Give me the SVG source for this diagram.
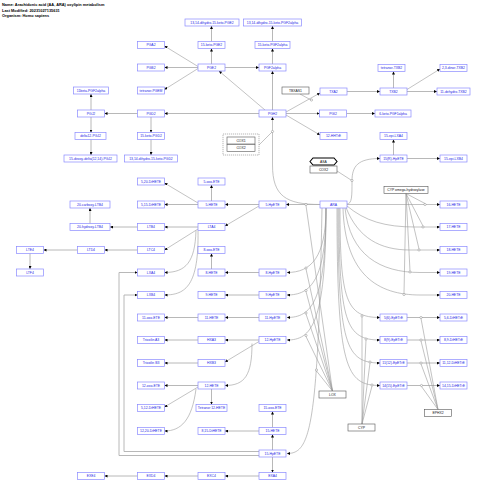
<svg xmlns="http://www.w3.org/2000/svg" width="480" height="490" viewBox="0 0 480 490">
<style>
.n rect{fill:#fff;stroke:#8a8aff;stroke-width:0.7}
.n text{font-family:"Liberation Sans",Arial,sans-serif;font-size:3.4px;fill:#2323e6;text-anchor:middle;dominant-baseline:central}
.g rect,.g polygon{fill:#fff;stroke:#555;stroke-width:0.6}
.g text{font-family:"Liberation Sans",Arial,sans-serif;font-size:3.4px;fill:#111;text-anchor:middle;dominant-baseline:central}
.hd{font-family:"Liberation Sans",Arial,sans-serif;font-size:3.9px;font-weight:bold;fill:#000}
#edges path,#edges line{fill:none;stroke:#9a9a9a;stroke-width:0.6}
#edges .a{marker-end:url(#ah)}
#edges .s{stroke:#b0b0b0;stroke-width:0.9}
#edges circle{fill:#fff;stroke:#888;stroke-width:0.5}
</style>
<defs>
<marker id="ah" markerUnits="userSpaceOnUse" markerWidth="3" markerHeight="3" viewBox="0 0 6 6" refX="6" refY="3" orient="auto"><path d="M0,0 L6,3 L0,6 z" fill="#000"/></marker>
</defs>
<rect width="480" height="490" fill="#fff"/>
<text class="hd" x="2" y="6">Name: Arachidonic acid (AA, ARA) oxylipin metabolism</text>
<text class="hd" x="2" y="11.5">Last Modified: 20231027135631</text>
<text class="hd" x="2" y="17">Organism: Homo sapiens</text>

<g id="edges">
<!-- prostanoids -->
<line class="a s" x1="211.5" y1="64" x2="211.5" y2="48.5"/>
<line class="a s" x1="211.5" y1="41.5" x2="211.5" y2="26"/>
<line class="a s" x1="272.5" y1="64" x2="272.5" y2="48.5"/>
<line class="a s" x1="272.5" y1="41.5" x2="272.5" y2="26"/>
<line class="a s" x1="225" y1="67.5" x2="259" y2="67.5"/>
<line class="a" x1="198" y1="66.5" x2="164.5" y2="46"/>
<line class="a s" x1="198" y1="67.5" x2="164.5" y2="67.5"/>
<line class="a" x1="198" y1="68.5" x2="164.5" y2="89.5"/>
<line class="a" x1="265" y1="110" x2="219" y2="71"/>
<line class="a s" x1="272.5" y1="110" x2="272.5" y2="71"/>
<line class="a s" x1="259" y1="113.5" x2="164.5" y2="113.5"/>
<line class="a s" x1="137.5" y1="113.5" x2="104.5" y2="113.5"/>
<line class="a s" x1="91" y1="110" x2="91" y2="94"/>
<line class="a s" x1="91" y1="117" x2="91" y2="132.5"/>
<line class="a s" x1="91" y1="139.5" x2="91" y2="155"/>
<line class="a s" x1="151" y1="117" x2="151" y2="132.5"/>
<line class="a s" x1="151" y1="139.5" x2="151" y2="155"/>
<line class="a" x1="286" y1="112" x2="320" y2="93"/>
<line x1="300" y1="94" x2="311" y2="100"/>
<circle cx="311.5" cy="100" r="1.1"/>
<line class="a s" x1="286" y1="113.5" x2="319.5" y2="113.5"/>
<line class="a" x1="286" y1="115" x2="320" y2="135"/>
<line class="a s" x1="347" y1="91.5" x2="380" y2="91.5"/>
<line class="a s" x1="393.5" y1="88" x2="393.5" y2="71.5"/>
<line class="a" x1="407" y1="89.5" x2="440" y2="69"/>
<line class="a s" x1="407" y1="91.5" x2="437" y2="91.5"/>
<line class="a s" x1="346.5" y1="113.5" x2="375" y2="113.5"/>
<!-- ARA to PGH2 via COX -->
<path class="a" d="M320,204.5 C286,204.5 272.5,196 272.5,165 L272.5,117"/>
<line x1="259" y1="145" x2="272" y2="132"/>
<circle cx="272.5" cy="131.5" r="1.1"/>
<!-- ARA to 15(R)-HpETE -->
<path class="a" d="M347,204 C352,204 352,196 352,181 C352,166 358,158.5 380,158.5"/>
<line x1="337" y1="171" x2="351" y2="180"/>
<circle cx="352" cy="180.5" r="1.1"/>
<line class="a s" x1="393.5" y1="155" x2="393.5" y2="139.5"/>
<line class="a s" x1="407" y1="158.5" x2="440" y2="158.5"/>
<!-- 5-LOX branch -->
<line class="a s" x1="320" y1="204.5" x2="286" y2="204.5"/>
<circle cx="306" cy="204.5" r="1.1"/>
<line class="a s" x1="259" y1="204.5" x2="225" y2="204.5"/>
<line class="a s" x1="211.5" y1="201" x2="211.5" y2="185"/>
<line class="a" x1="198" y1="203" x2="164.5" y2="183"/>
<line class="a s" x1="198" y1="204.5" x2="164.5" y2="204.5"/>
<line class="a" x1="259" y1="206" x2="225" y2="226"/>
<line class="a s" x1="198" y1="227" x2="164.5" y2="227"/>
<line class="a s" x1="137.5" y1="227" x2="110" y2="227"/>
<line class="a s" x1="90" y1="223.5" x2="90" y2="208"/>
<line class="a" x1="198" y1="229" x2="164.5" y2="250"/>
<line class="a s" x1="137.5" y1="250" x2="104.5" y2="250"/>
<line class="a s" x1="77.5" y1="250" x2="43.5" y2="250"/>
<line class="a s" x1="30" y1="253.5" x2="30" y2="269"/>
<path class="a" d="M196,230.5 C195,262 186,272.5 164.5,272.5"/>
<path class="a" d="M198,230.5 C199,285 186,295 164.5,295"/>
<!-- 8,9,11,12 HpETE -->
<path class="a" d="M326,208 C326,257.5 311,272.5 287,272.5"/>
<path class="a" d="M326,208 C326,280 311,295 287,295"/>
<path class="a" d="M326,208 C326,302.5 311,317.5 287,317.5"/>
<path class="a" d="M326,208 C326,325 311,340 287,340"/>
<path class="a" d="M322,208 C318,430 310,453.5 287,453.5"/>
<circle cx="306" cy="268" r="1.1"/>
<circle cx="306" cy="290.5" r="1.1"/>
<circle cx="306" cy="313" r="1.1"/>
<circle cx="306" cy="335.5" r="1.1"/>
<circle cx="316.5" cy="370" r="1.1"/>
<line x1="332.5" y1="391" x2="306" y2="205.5"/>
<line x1="332.5" y1="391" x2="306" y2="269"/>
<line x1="332.5" y1="391" x2="306" y2="291.5"/>
<line x1="332.5" y1="391" x2="306" y2="314"/>
<line x1="332.5" y1="391" x2="306" y2="336.5"/>
<line x1="332.5" y1="391" x2="316.5" y2="371"/>
<line class="a s" x1="259" y1="272.5" x2="225" y2="272.5"/>
<line class="a s" x1="211.5" y1="269" x2="211.5" y2="253.5"/>
<line class="a s" x1="259" y1="295" x2="225" y2="295"/>
<line class="a s" x1="259" y1="317.5" x2="225" y2="317.5"/>
<line class="a s" x1="198" y1="317.5" x2="164.5" y2="317.5"/>
<line class="a s" x1="259" y1="340" x2="225" y2="340"/>
<line class="a s" x1="198" y1="340" x2="164.5" y2="340"/>
<line class="a" x1="259" y1="341.5" x2="225" y2="362"/>
<line class="a s" x1="198" y1="363" x2="164.5" y2="363"/>
<path class="a" d="M252,343.5 C252,375 245,385.5 225,385.5"/>
<line class="a s" x1="198" y1="385.5" x2="164.5" y2="385.5"/>
<line class="a s" x1="211.5" y1="389" x2="211.5" y2="404.5"/>
<line class="a" x1="198" y1="387" x2="164.5" y2="407"/>
<path class="a" d="M196,389 C192,420 181,431 164.5,431"/>
<!-- 15-LOX -->
<line class="a s" x1="272.5" y1="450" x2="272.5" y2="434.5"/>
<line class="a s" x1="272.5" y1="427.5" x2="272.5" y2="411.5"/>
<line class="a s" x1="259" y1="431" x2="225" y2="431"/>
<line class="a s" x1="272.5" y1="457" x2="272.5" y2="472.5"/>
<line class="a s" x1="259" y1="476" x2="225" y2="476"/>
<line class="a s" x1="198" y1="476" x2="164.5" y2="476"/>
<line class="a s" x1="137.5" y1="476" x2="104.5" y2="476"/>
<path class="a s" d="M259,455.5 L119,455.5 L119,272.5 L137.5,272.5"/>
<path class="a s" d="M259,451.5 L124,451.5 L124,295 L137.5,295"/>
<!-- CYP omega -->
<line class="a" x1="347" y1="204.5" x2="440" y2="204.5"/>
<path class="a" d="M347,206 C365,221 385,227 415,227 L440,227"/>
<path class="a" d="M346,207.5 C358,238 380,250 410,250 L440,250"/>
<path class="a" d="M345,208 C350,255 380,272.5 420,272.5 L440,272.5"/>
<path class="a" d="M343,208 C345,275 378,295 420,295 L440,295"/>
<circle cx="425" cy="204.5" r="1.1"/>
<circle cx="423" cy="227" r="1.1"/>
<circle cx="419" cy="250" r="1.1"/>
<circle cx="410" cy="272" r="1.1"/>
<circle cx="404" cy="294.5" r="1.1"/>
<line x1="406" y1="193.5" x2="425" y2="203.5"/>
<line x1="406" y1="193.5" x2="423" y2="226"/>
<line x1="406" y1="193.5" x2="419" y2="249"/>
<line x1="406" y1="193.5" x2="410" y2="271"/>
<line x1="406" y1="193.5" x2="404" y2="293.5"/>
<!-- CYP epoxygenase -->
<path class="a" d="M340,208 C340,300 346,317.5 380,317.5"/>
<path class="a" d="M339,208 C339,322 346,340 380,340"/>
<path class="a" d="M338,208 C338,345 346,363 380,363"/>
<path class="a" d="M337,208 C337,368 346,385.5 380,385.5"/>
<circle cx="362" cy="316" r="1.1"/>
<circle cx="366" cy="339" r="1.1"/>
<circle cx="370" cy="362" r="1.1"/>
<circle cx="372" cy="385" r="1.1"/>
<line x1="362" y1="424" x2="362" y2="317"/>
<line x1="362" y1="424" x2="366" y2="340"/>
<line x1="362" y1="424" x2="370" y2="363"/>
<line x1="362" y1="424" x2="372" y2="386"/>
<!-- EPHX2 -->
<line class="a s" x1="407" y1="317.5" x2="440" y2="317.5"/>
<line class="a s" x1="407" y1="340" x2="440" y2="340"/>
<line class="a s" x1="407" y1="363" x2="440" y2="363"/>
<line class="a s" x1="407" y1="385.5" x2="440" y2="385.5"/>
<circle cx="421" cy="317.5" r="1.1"/>
<circle cx="421" cy="340" r="1.1"/>
<circle cx="421" cy="363" r="1.1"/>
<circle cx="421.5" cy="385.5" r="1.1"/>
<line x1="438" y1="409.5" x2="421" y2="318.5"/>
<line x1="438" y1="409.5" x2="421" y2="341"/>
<line x1="438" y1="409.5" x2="421" y2="364"/>
<line x1="438" y1="409.5" x2="421.5" y2="386.5"/>
</g>

<g id="cox-group">
<rect x="223" y="134" width="36" height="21" fill="none" stroke="#888" stroke-width="0.6" stroke-dasharray="1.2,0.8"/>
<g id="COX1" class="g"><rect x="227" y="137" width="28" height="7"/><text x="241" y="140.5">COX1</text></g>
<g id="COX2a" class="g"><rect x="227" y="144.5" width="28" height="7"/><text x="241" y="148">COX2</text></g>
</g>
<g id="ASA" class="g"><polygon points="310,161.5 313,158 334,158 337,161.5 334,165 313,165" style="stroke:#000;stroke-width:1.1"/><text x="323.5" y="161.5">ASA</text></g>
<g id="COX2b" class="g"><rect x="310" y="166" width="27" height="7"/><text x="323.5" y="169.5">COX2</text></g>
<g id="TBXAS1" class="g"><rect x="282" y="87" width="27" height="7"/><text x="295.5" y="90.5">TBXAS1</text></g>
<g id="CYPomega" class="g"><rect x="384" y="186.5" width="44" height="7"/><text x="406" y="190">CYP omega-hydroxylase</text></g>
<g id="LOX" class="g"><rect x="319" y="391" width="27" height="7"/><text x="332.5" y="394.5">LOX</text></g>
<g id="EPHX2" class="g"><rect x="424.5" y="409.5" width="27" height="7"/><text x="438" y="413">EPHX2</text></g>
<g id="CYP" class="g"><rect x="348" y="424" width="27" height="7"/><text x="361.5" y="427.5">CYP</text></g>

<g id="n1" class="n"><rect x="185" y="19" width="54" height="7"/><text x="212" y="22.5">13,14-dihydro-15-keto-PGE2</text></g>
<g id="n2" class="n"><rect x="243.5" y="19" width="58" height="7"/><text x="272.5" y="22.5">13,14-dihydro-15-keto-PGF2alpha</text></g>
<g id="n3" class="n"><rect x="137.5" y="41.5" width="27" height="7"/><text x="151" y="45">PGA2</text></g>
<g id="n4" class="n"><rect x="198" y="41.5" width="27" height="7"/><text x="211.5" y="45">15-keto-PGE2</text></g>
<g id="n5" class="n"><rect x="255" y="41.5" width="35" height="7"/><text x="272.5" y="45">15-keto-PGF2alpha</text></g>
<g id="n6" class="n"><rect x="137.5" y="64" width="27" height="7"/><text x="151" y="67.5">PGB2</text></g>
<g id="n7" class="n"><rect x="198" y="64" width="27" height="7"/><text x="211.5" y="67.5">PGE2</text></g>
<g id="n8" class="n"><rect x="259" y="64" width="27" height="7"/><text x="272.5" y="67.5">PGF2alpha</text></g>
<g id="n9" class="n"><rect x="137.5" y="87" width="27" height="7"/><text x="151" y="90.5">tetranor-PGEM</text></g>
<g id="n10" class="n"><rect x="73.5" y="87" width="35" height="7"/><text x="91" y="90.5">11beta-PGF2alpha</text></g>
<g id="n12" class="n"><rect x="378" y="64.5" width="27" height="7"/><text x="391.5" y="68">tetranor-TXB2</text></g>
<g id="n13" class="n"><rect x="440" y="64.5" width="27" height="7"/><text x="453.5" y="68">2,3-dinor-TXB2</text></g>
<g id="n14" class="n"><rect x="320" y="88" width="27" height="7"/><text x="333.5" y="91.5">TXA2</text></g>
<g id="n15" class="n"><rect x="380" y="88" width="27" height="7"/><text x="393.5" y="91.5">TXB2</text></g>
<g id="n16" class="n"><rect x="437" y="88" width="33" height="7"/><text x="453.5" y="91.5">11-dehydro-TXB2</text></g>
<g id="n17" class="n"><rect x="77.5" y="110" width="27" height="7"/><text x="91" y="113.5">PGJ2</text></g>
<g id="n18" class="n"><rect x="137.5" y="110" width="27" height="7"/><text x="151" y="113.5">PGD2</text></g>
<g id="n19" class="n"><rect x="259" y="110" width="27" height="7"/><text x="272.5" y="113.5">PGH2</text></g>
<g id="n20" class="n"><rect x="319.5" y="110" width="27" height="7"/><text x="333" y="113.5">PGI2</text></g>
<g id="n21" class="n"><rect x="375" y="110" width="36" height="7"/><text x="393" y="113.5">6-keto-PGF1alpha</text></g>
<g id="n22" class="n"><rect x="75" y="132.5" width="31" height="7"/><text x="90.5" y="136">delta12-PGJ2</text></g>
<g id="n23" class="n"><rect x="137.5" y="132.5" width="27" height="7"/><text x="151" y="136">15-keto-PGD2</text></g>
<g id="n24" class="n"><rect x="320" y="132.5" width="27" height="7"/><text x="333.5" y="136">12-HHTrE</text></g>
<g id="n25" class="n"><rect x="380" y="132.5" width="27" height="7"/><text x="393.5" y="136">15-epi-LXA4</text></g>
<g id="n26" class="n"><rect x="64" y="155" width="53" height="7"/><text x="90.5" y="158.5">15-deoxy-delta(12,14)-PGJ2</text></g>
<g id="n27" class="n"><rect x="124.5" y="155" width="53" height="7"/><text x="151" y="158.5">13,14-dihydro-15-keto-PGD2</text></g>
<g id="n28" class="n"><rect x="380" y="155" width="27" height="7"/><text x="393.5" y="158.5">15(R)-HpETE</text></g>
<g id="n29" class="n"><rect x="440" y="155" width="27" height="7"/><text x="453.5" y="158.5">15-epi-LXB4</text></g>
<g id="n30" class="n"><rect x="137.5" y="178" width="27" height="7"/><text x="151" y="181.5">5,20-DiHETE</text></g>
<g id="n31" class="n"><rect x="198" y="178" width="27" height="7"/><text x="211.5" y="181.5">5-oxo-ETE</text></g>
<g id="n32" class="n"><rect x="70" y="201" width="40" height="7"/><text x="90" y="204.5">20-carboxy-LTB4</text></g>
<g id="n33" class="n"><rect x="137.5" y="201" width="27" height="7"/><text x="151" y="204.5">5,15-DiHETE</text></g>
<g id="n34" class="n"><rect x="198" y="201" width="27" height="7"/><text x="211.5" y="204.5">5-HETE</text></g>
<g id="n35" class="n"><rect x="259" y="201" width="27" height="7"/><text x="272.5" y="204.5">5-HpETE</text></g>
<g id="n36" class="n"><rect x="320" y="201" width="27" height="7"/><text x="333.5" y="204.5">ARA</text></g>
<g id="n37" class="n"><rect x="440" y="201" width="27" height="7"/><text x="453.5" y="204.5">16-HETE</text></g>
<g id="n38" class="n"><rect x="70" y="223.5" width="40" height="7"/><text x="90" y="227">20-hydroxy-LTB4</text></g>
<g id="n39" class="n"><rect x="137.5" y="223.5" width="27" height="7"/><text x="151" y="227">LTB4</text></g>
<g id="n40" class="n"><rect x="198" y="223.5" width="27" height="7"/><text x="211.5" y="227">LTA4</text></g>
<g id="n41" class="n"><rect x="440" y="223.5" width="27" height="7"/><text x="453.5" y="227">17-HETE</text></g>
<g id="n42" class="n"><rect x="16.5" y="246.5" width="27" height="7"/><text x="30" y="250">LTE4</text></g>
<g id="n43" class="n"><rect x="77.5" y="246.5" width="27" height="7"/><text x="91" y="250">LTD4</text></g>
<g id="n44" class="n"><rect x="137.5" y="246.5" width="27" height="7"/><text x="151" y="250">LTC4</text></g>
<g id="n45" class="n"><rect x="198" y="246.5" width="27" height="7"/><text x="211.5" y="250">8-oxo-ETE</text></g>
<g id="n46" class="n"><rect x="440" y="246.5" width="27" height="7"/><text x="453.5" y="250">18-HETE</text></g>
<g id="n47" class="n"><rect x="16.5" y="269" width="27" height="7"/><text x="30" y="272.5">LTF4</text></g>
<g id="n48" class="n"><rect x="137.5" y="269" width="27" height="7"/><text x="151" y="272.5">LXA4</text></g>
<g id="n49" class="n"><rect x="198" y="269" width="27" height="7"/><text x="211.5" y="272.5">8-HETE</text></g>
<g id="n50" class="n"><rect x="259" y="269" width="27" height="7"/><text x="272.5" y="272.5">8-HpETE</text></g>
<g id="n51" class="n"><rect x="440" y="269" width="27" height="7"/><text x="453.5" y="272.5">19-HETE</text></g>
<g id="n52" class="n"><rect x="137.5" y="291.5" width="27" height="7"/><text x="151" y="295">LXB4</text></g>
<g id="n53" class="n"><rect x="198" y="291.5" width="27" height="7"/><text x="211.5" y="295">9-HETE</text></g>
<g id="n54" class="n"><rect x="259" y="291.5" width="27" height="7"/><text x="272.5" y="295">9-HpETE</text></g>
<g id="n55" class="n"><rect x="440" y="291.5" width="27" height="7"/><text x="453.5" y="295">20-HETE</text></g>
<g id="n56" class="n"><rect x="137.5" y="314" width="27" height="7"/><text x="151" y="317.5">11-oxo-ETE</text></g>
<g id="n57" class="n"><rect x="198" y="314" width="27" height="7"/><text x="211.5" y="317.5">11-HETE</text></g>
<g id="n58" class="n"><rect x="259" y="314" width="27" height="7"/><text x="272.5" y="317.5">11-HpETE</text></g>
<g id="n59" class="n"><rect x="380" y="314" width="27" height="7"/><text x="393.5" y="317.5">5(6)-EpETrE</text></g>
<g id="n60" class="n"><rect x="440" y="314" width="27" height="7"/><text x="453.5" y="317.5">5,6-DiHETrE</text></g>
<g id="n61" class="n"><rect x="137.5" y="336.5" width="27" height="7"/><text x="151" y="340">Trioxilin A3</text></g>
<g id="n62" class="n"><rect x="198" y="336.5" width="27" height="7"/><text x="211.5" y="340">HXA3</text></g>
<g id="n63" class="n"><rect x="259" y="336.5" width="27" height="7"/><text x="272.5" y="340">12-HpETE</text></g>
<g id="n64" class="n"><rect x="380" y="336.5" width="27" height="7"/><text x="393.5" y="340">8(9)-EpETrE</text></g>
<g id="n65" class="n"><rect x="440" y="336.5" width="27" height="7"/><text x="453.5" y="340">8,9-DiHETrE</text></g>
<g id="n66" class="n"><rect x="137.5" y="359.5" width="27" height="7"/><text x="151" y="363">Trioxilin B3</text></g>
<g id="n67" class="n"><rect x="198" y="359.5" width="27" height="7"/><text x="211.5" y="363">HXB3</text></g>
<g id="n68" class="n"><rect x="380" y="359.5" width="27" height="7"/><text x="393.5" y="363">11(12)-EpETrE</text></g>
<g id="n69" class="n"><rect x="440" y="359.5" width="27" height="7"/><text x="453.5" y="363">11,12-DiHETrE</text></g>
<g id="n70" class="n"><rect x="137.5" y="382" width="27" height="7"/><text x="151" y="385.5">12-oxo-ETE</text></g>
<g id="n71" class="n"><rect x="198" y="382" width="27" height="7"/><text x="211.5" y="385.5">12-HETE</text></g>
<g id="n72" class="n"><rect x="380" y="382" width="27" height="7"/><text x="393.5" y="385.5">14(15)-EpETrE</text></g>
<g id="n73" class="n"><rect x="440" y="382" width="27" height="7"/><text x="453.5" y="385.5">14,15-DiHETrE</text></g>
<g id="n74" class="n"><rect x="137.5" y="404.5" width="27" height="7"/><text x="151" y="408">5,12-DiHETE</text></g>
<g id="n75" class="n"><rect x="196" y="404.5" width="31" height="7"/><text x="211.5" y="408">Tetranor 12-HETE</text></g>
<g id="n76" class="n"><rect x="259" y="404.5" width="27" height="7"/><text x="272.5" y="408">15-oxo-ETE</text></g>
<g id="n77" class="n"><rect x="137.5" y="427.5" width="27" height="7"/><text x="151" y="431">12,20-DiHETE</text></g>
<g id="n78" class="n"><rect x="198" y="427.5" width="27" height="7"/><text x="211.5" y="431">8,15-DiHETE</text></g>
<g id="n79" class="n"><rect x="259" y="427.5" width="27" height="7"/><text x="272.5" y="431">15-HETE</text></g>
<g id="n80" class="n"><rect x="259" y="450" width="27" height="7"/><text x="272.5" y="453.5">15-HpETE</text></g>
<g id="n81" class="n"><rect x="77.5" y="472.5" width="27" height="7"/><text x="91" y="476">EXE4</text></g>
<g id="n82" class="n"><rect x="137.5" y="472.5" width="27" height="7"/><text x="151" y="476">EXD4</text></g>
<g id="n83" class="n"><rect x="198" y="472.5" width="27" height="7"/><text x="211.5" y="476">EXC4</text></g>
<g id="n84" class="n"><rect x="259" y="472.5" width="27" height="7"/><text x="272.5" y="476">EXA4</text></g>
</svg>
